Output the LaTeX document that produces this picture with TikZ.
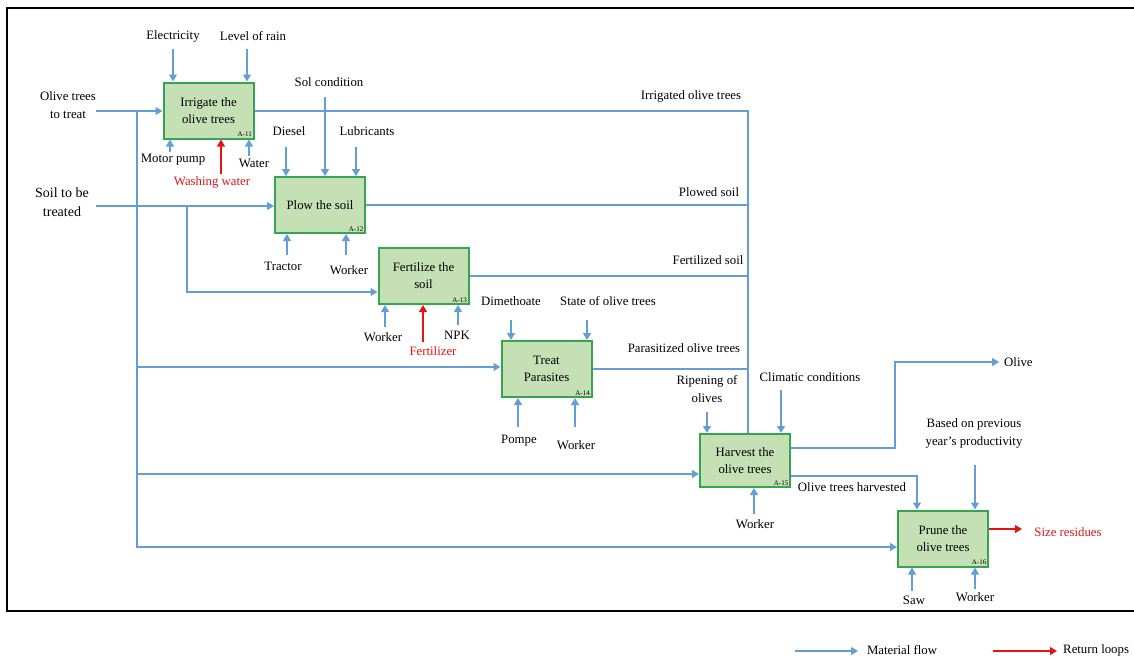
\documentclass[tikz,border=0pt]{standalone}
\usepackage{fontspec}
\setmainfont{Liberation Serif}
\usetikzlibrary{arrows.meta}
\definecolor{boxfill}{RGB}{197,224,180}
\definecolor{boxgreen}{RGB}{52,165,80}
\definecolor{flowblue}{RGB}{100,158,212}
\definecolor{retred}{RGB}{228,20,20}
\tikzset{
  proc/.style={draw=boxgreen, fill=boxfill, line width=2pt, minimum width=90pt, minimum height=56pt, align=center, inner sep=0pt, font=\fontsize{12.8}{17}\selectfont},
  code/.style={anchor=south east, inner sep=2.5pt, font=\fontsize{7}{8}\selectfont},
  lbl/.style={align=center, inner sep=0pt, font=\fontsize{12.8}{18}\selectfont},
  redlbl/.style={lbl, text=retred},
  flowline/.style={draw=flowblue, line width=1.2pt},
  flow/.style={flowline, -{Triangle[length=7pt,width=8pt]}},
  ret/.style={draw=retred, line width=1.2pt, -{Triangle[length=7pt,width=8pt]}},
}
\begin{document}
\begin{tikzpicture}[x=1pt,y=-1pt]
\useasboundingbox (0,0) rectangle (1134,659);
% frame
\draw[line width=1.6pt, black] (1134,8) -- (7,8) -- (7,611) -- (1134,611);

% boxes
\node[proc] (A11) at (208.5,110.5) {Irrigate the\\olive trees};
\node[code] at (A11.south east) {A-11};
\node[proc] (A12) at (320,205) {Plow the soil};
\node[code] at (A12.south east) {A-12};
\node[proc] (A13) at (423.5,276) {Fertilize the\\soil};
\node[code] at (A13.south east) {A-13};
\node[proc] (A14) at (546.5,369) {Treat\\Parasites};
\node[code] at (A14.south east) {A-14};
\node[proc, minimum height=53pt] (A15) at (745,460.5) {Harvest the\\olive trees};
\node[code] at (A15.south east) {A-15};
\node[proc] (A16) at (943,538.5) {Prune the\\olive trees};
\node[code] at (A16.south east) {A-16};

% labels
\node[lbl] (lOlT) at (68,105) {Olive trees\\to treat};
\node[lbl, font=\fontsize{14}{19}\selectfont] (lSoil) at (62,202.5) {Soil to be\\treated};
\node[lbl] (lElec) at (173,36) {Electricity};
\node[lbl] (lRain) at (253,36) {Level of rain};
\node[lbl] (lSol) at (329,82) {Sol condition};
\node[lbl] (lDie) at (289,131) {Diesel};
\node[lbl] (lLub) at (367,131) {Lubricants};
\node[lbl] (lIrr) at (691,96) {Irrigated olive trees};
\node[lbl] (lMot) at (173,160) {Motor pump};
\node[lbl] (lWat) at (254,163) {Water};
\node[redlbl] (lWash) at (212,182) {Washing water};
\node[lbl] (lPlo) at (709,192) {Plowed soil};
\node[lbl] (lTra) at (283,266) {Tractor};
\node[lbl] (lWk2) at (349,270) {Worker};
\node[lbl] (lFso) at (708,260) {Fertilized soil};
\node[lbl] (lDim) at (511,301) {Dimethoate};
\node[lbl] (lSta) at (608,301) {State of olive trees};
\node[lbl] (lWk3) at (383,337) {Worker};
\node[lbl] (lNPK) at (457,335) {NPK};
\node[redlbl] (lFer) at (433,351) {Fertilizer};
\node[lbl] (lPar) at (684,348) {Parasitized olive trees};
\node[lbl, anchor=west] (lOli) at (1004,362) {Olive};
\node[lbl] (lCli) at (810,377) {Climatic conditions};
\node[lbl] (lRip) at (707,389) {Ripening of\\olives};
\node[lbl] (lBas) at (974,433.5) {Based on previous\\year's productivity};
\node[lbl] (lPom) at (519,441) {Pompe};
\node[lbl] (lWk4) at (576,445) {Worker};
\node[lbl] (lHar) at (852,487) {Olive trees harvested};
\node[lbl] (lWk5) at (755,524) {Worker};
\node[redlbl] (lSiz) at (1068,532) {Size residues};
\node[lbl] (lSaw) at (914,600) {Saw};
\node[lbl] (lWk6) at (975,597) {Worker};
\node[lbl] (lMat) at (902,650) {Material flow};
\node[lbl, anchor=west] (lRet) at (1063,650) {Return loops};

% tail coordinates
\coordinate (cOlT) at (96,111);
\coordinate (cT0) at (137,111);
\coordinate (cT1) at (137,547);
\coordinate (cT14) at (137,367);
\coordinate (cT15) at (137,474);
\coordinate (cSoil) at (96,206);
\coordinate (cS0) at (187,206);
\coordinate (cS1) at (187,292);
\coordinate (cElec) at (173,49);
\coordinate (cRain) at (247,49);
\coordinate (cMot) at (170,152);
\coordinate (cWash) at (221,174);
\coordinate (cWat) at (249,156);
\coordinate (cSol) at (325,97);
\coordinate (cDie) at (286,147);
\coordinate (cLub) at (356,147);
\coordinate (cTra) at (287,255);
\coordinate (cWk2) at (346,255);
\coordinate (cWk3) at (385,327);
\coordinate (cFer) at (423,342);
\coordinate (cNPK) at (458,325);
\coordinate (cDim) at (511,320);
\coordinate (cSta) at (587,320);
\coordinate (cPom) at (518,427);
\coordinate (cWk4) at (575,427);
\coordinate (cRip) at (707,412);
\coordinate (cCli) at (781,390);
\coordinate (cWk5) at (754,514);
\coordinate (cBas) at (975,465);
\coordinate (cSaw) at (912,591);
\coordinate (cWk6) at (975,589);
\coordinate (cCol) at (748,111);
\coordinate (cOl1) at (895,448);
\coordinate (cOl2) at (895,362);
\coordinate (cOl3) at (999,362);
\coordinate (cHa1) at (917,476);
\coordinate (cSiz) at (1022,529);
\coordinate (cM0) at (795,651);
\coordinate (cM1) at (858,651);
\coordinate (cR0) at (993,651);
\coordinate (cR1) at (1057,651);

% left inputs
\draw[flow] (cOlT) -- (cOlT -| A11.west);
\draw[flow] (cT0) -- (cT1) -- (cT1 -| A16.west);
\draw[flow] (cT14) -- (cT14 -| A14.west);
\draw[flow] (cT15) -- (cT15 -| A15.west);
\draw[flow] (cSoil) -- (cSoil -| A12.west);
\draw[flow] (cS0) -- (cS1) -- (cS1 -| A13.west);

% top controls
\draw[flow] (cElec) -- (cElec |- A11.north);
\draw[flow] (cRain) -- (cRain |- A11.north);
\draw[flow] (cSol) -- (cSol |- A12.north);
\draw[flow] (cDie) -- (cDie |- A12.north);
\draw[flow] (cLub) -- (cLub |- A12.north);
\draw[flow] (cDim) -- (cDim |- A14.north);
\draw[flow] (cSta) -- (cSta |- A14.north);
\draw[flow] (cRip) -- (cRip |- A15.north);
\draw[flow] (cCli) -- (cCli |- A15.north);
\draw[flow] (cBas) -- (cBas |- A16.north);

% bottom mechanisms
\draw[flow] (cMot) -- (cMot |- A11.south);
\draw[ret] (cWash) -- (cWash |- A11.south);
\draw[flow] (cWat) -- (cWat |- A11.south);
\draw[flow] (cTra) -- (cTra |- A12.south);
\draw[flow] (cWk2) -- (cWk2 |- A12.south);
\draw[flow] (cWk3) -- (cWk3 |- A13.south);
\draw[ret] (cFer) -- (cFer |- A13.south);
\draw[flow] (cNPK) -- (cNPK |- A13.south);
\draw[flow] (cPom) -- (cPom |- A14.south);
\draw[flow] (cWk4) -- (cWk4 |- A14.south);
\draw[flow] (cWk5) -- (cWk5 |- A15.south);
\draw[flow] (cSaw) -- (cSaw |- A16.south);
\draw[flow] (cWk6) -- (cWk6 |- A16.south);

% outputs
\draw[flowline] (cCol -| A11.east) -- (cCol) -- (cCol |- A15.north);
\draw[flowline] (A12.east) -- (A12.east -| cCol);
\draw[flowline] (A13.east) -- (A13.east -| cCol);
\draw[flowline] (A14.east) -- (A14.east -| cCol);
\draw[flow] (cOl1 -| A15.east) -- (cOl1) -- (cOl2) -- (cOl3);
\draw[flow] (cHa1 -| A15.east) -- (cHa1) -- (cHa1 |- A16.north);
\draw[ret] (cSiz -| A16.east) -- (cSiz);

% legend
\draw[flow] (cM0) -- (cM1);
\draw[ret] (cR0) -- (cR1);
\end{tikzpicture}
\end{document}
